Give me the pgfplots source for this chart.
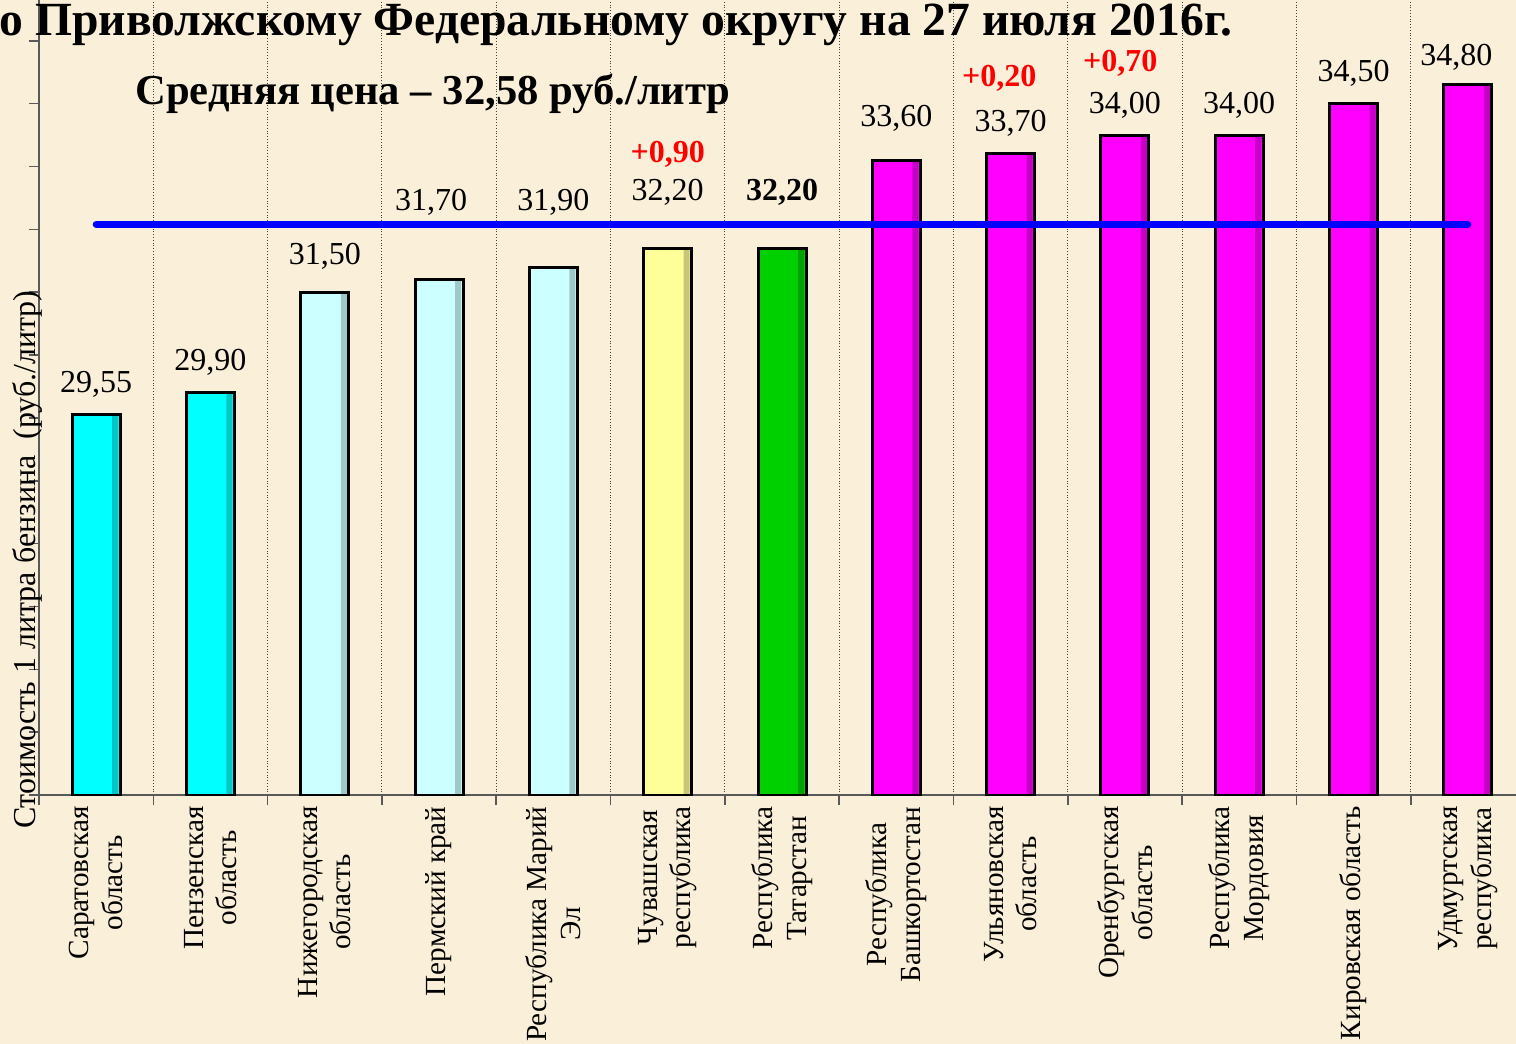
\documentclass[border=0pt]{standalone}
\usepackage{fontspec}
\setmainfont{Liberation Serif}
\usepackage{pgfplots}
\usepackage{pgfplotstable}
\pgfplotsset{compat=1.18}
\definecolor{bg}{RGB}{250,240,218}
\definecolor{cyanA}{RGB}{0,255,255}
\definecolor{cyanB}{RGB}{204,255,255}
\definecolor{yel}{RGB}{255,255,153}
\definecolor{grn}{RGB}{0,208,0}
\definecolor{mag}{RGB}{255,0,255}

\pgfplotstableread{
x y
0 29.55
1 29.90
}\tblA
\pgfplotstableread{
x y
2 31.50
3 31.70
4 31.90
}\tblB
\pgfplotstableread{
x y
5 32.20
}\tblC
\pgfplotstableread{
x y
6 32.20
}\tblD
\pgfplotstableread{
x y
7 33.60
8 33.70
9 34.00
10 34.00
11 34.50
12 34.80
}\tblE
\pgfplotstableread{
x y
0 29.55
1 29.90
2 31.50
3 31.70
4 31.90
5 32.20
6 32.20
7 33.60
8 33.70
9 34.00
10 34.00
11 34.50
12 34.80
}\tblAll
% label positions (centre of text) and text
\pgfplotstableread{
x y label
0 30.04 29,55
1 30.39 29,90
2 32.07 31,50
2.93 32.93 31,70
4 32.93 31,90
5 33.09 32,20
7 34.27 33,60
8 34.19 33,70
9 34.48 34,00
10 34.48 34,00
11 34.99 34,50
11.9 35.24 34,80
}\vals
\pgfplotstableread{
x y label
6 33.09 32,20
}\valsbold
\pgfplotstableread{
x y label
5 33.70 +0,90
7.9 34.91 +0,20
8.96 35.15 +0,70
}\valsred

\begin{document}
\begin{tikzpicture}
\fill[bg] (-19.5pt,-124.5pt) rectangle (738.5pt,397.5pt);
\begin{axis}[
  at={(0,0)}, anchor=south west,
  scale only axis, width=743pt, height=397.5pt,
  xmin=-0.5, xmax=12.5, ymin=23.5, ymax=36.15,
  axis x line*=bottom, axis y line*=left,
  axis line style={-, black!65, line width=0.8pt},
  tick align=outside, major tick length=5pt,
  tick style={black!65, line width=0.8pt},
  ytick={23.5,24.5,...,35.5}, yticklabels={},
  xtick={-0.5,0.5,...,12.5}, xticklabels={},
  xmajorgrids=true, ymajorgrids=false,
  major x grid style={densely dotted, black!75, line width=0.5pt},
  extra x ticks={0,1,...,12},
  extra x tick style={grid=none, major tick length=0pt},
  extra x tick labels={{Саратовская\\область},{Пензенская\\область},{Нижегородская\\область},{Пермский край},{Республика Марий\\Эл},{Чувашская\\республика},{Республика\\Татарстан},{Республика\\Башкортостан},{Ульяновская\\область},{Оренбургская\\область},{Республика\\Мордовия},{Кировская область},{Удмуртская\\республика}},
  xticklabel style={rotate=90, anchor=east, align=center, font=\fontsize{14.6}{16.8}\selectfont, inner sep=0pt, xshift=-5.5pt},
  ylabel={Стоимость 1 литра бензина~~(руб./литр)},
  ylabel style={at={(axis description cs:-0.008,0.296)}, anchor=center, font=\fontsize{16}{19}\selectfont},
  clip=true,
]
\addplot[ybar, bar width=24pt, bar shift=0pt, draw=black, line width=1.5pt, fill=cyanA] table[x=x,y=y] {\tblA};
\addplot[ybar, bar width=24pt, bar shift=0pt, draw=black, line width=1.5pt, fill=cyanB] table[x=x,y=y] {\tblB};
\addplot[ybar, bar width=24pt, bar shift=0pt, draw=black, line width=1.5pt, fill=yel] table[x=x,y=y] {\tblC};
\addplot[ybar, bar width=24pt, bar shift=0pt, draw=black, line width=1.5pt, fill=grn] table[x=x,y=y] {\tblD};
\addplot[ybar, bar width=24pt, bar shift=0pt, draw=black, line width=1.5pt, fill=mag] table[x=x,y=y] {\tblE};
% darker bevel on the right edge of each bar
\addplot[ybar, bar width=3pt, bar shift=9.5pt, draw=none, fill=black, fill opacity=0.22] table[x=x,y=y] {\tblAll};
\addplot[blue, line width=3.5pt, line cap=round] coordinates {(0,32.58) (12,32.58)};
\addplot[draw=none, nodes near coords, point meta=explicit symbolic, nodes near coords align={anchor=center},
  every node near coord/.append style={font=\fontsize{16}{19}\selectfont, text=black, inner sep=0pt}]
  table[x=x,y=y,meta=label] {\vals};
\addplot[draw=none, nodes near coords, point meta=explicit symbolic, nodes near coords align={anchor=center},
  every node near coord/.append style={font=\fontsize{16}{19}\selectfont\bfseries, text=black, inner sep=0pt}]
  table[x=x,y=y,meta=label] {\valsbold};
\addplot[draw=none, nodes near coords, point meta=explicit symbolic, nodes near coords align={anchor=center},
  every node near coord/.append style={font=\fontsize{16}{19}\selectfont\bfseries, text=red, inner sep=0pt}]
  table[x=x,y=y,meta=label] {\valsred};
\end{axis}
\node[anchor=base west, inner sep=0pt, font=\fontsize{23.8}{28}\selectfont\bfseries] at (-20pt,379.5pt) {о Приволжскому Федеральному округу на 27 июля 2016г.};
\node[anchor=base west, inner sep=0pt, font=\fontsize{21.3}{25}\selectfont\bfseries] at (48pt,345pt) {Средняя цена – 32,58 руб./литр};
\pgfresetboundingbox
\useasboundingbox (-19.5pt,-124.5pt) rectangle (738.5pt,397.5pt);
\end{tikzpicture}
\end{document}
